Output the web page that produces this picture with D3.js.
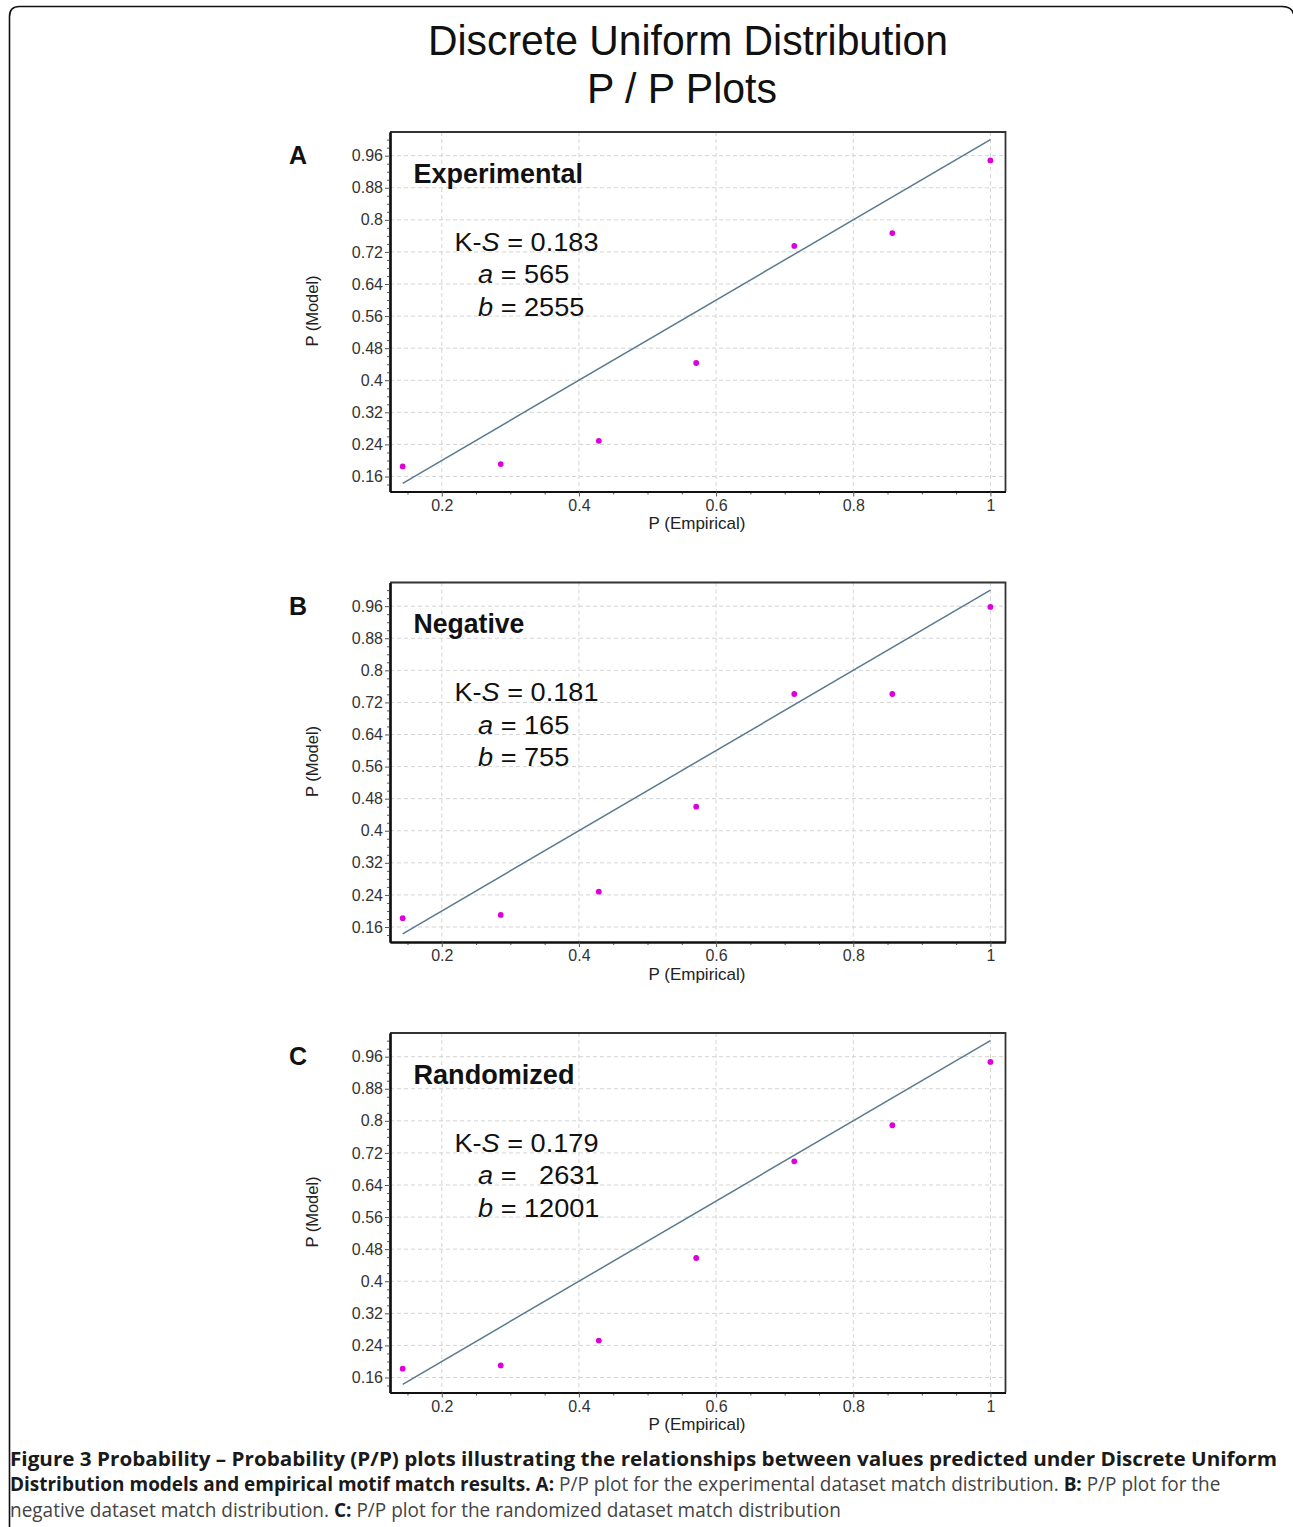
<!DOCTYPE html>
<html>
<head>
<meta charset="utf-8">
<script src="https://cdn.jsdelivr.net/npm/d3@7"></script>
<style>
  html, body { margin: 0; padding: 0; background: #fff; }
  svg { display: block; }
  text { font-family: "Liberation Sans", Arial, sans-serif; }
</style>
</head>
<body>
<svg id="chart" width="1293" height="1527"></svg>
<script>
// ---------- data ----------
const empirical = [0.143, 0.286, 0.429, 0.571, 0.714, 0.857, 1.0];
const modelA = [0.185, 0.191, 0.249, 0.443, 0.735, 0.767, 0.948];
const modelB = [0.182, 0.190, 0.248, 0.460, 0.741, 0.741, 0.958];
const modelC = [0.182, 0.190, 0.252, 0.458, 0.699, 0.789, 0.947];
const refLine = [[0.143, 0.143], [1.0, 1.0]];
const xTicks = [0.2, 0.4, 0.6, 0.8, 1];
const xTickLabels = ["0.2", "0.4", "0.6", "0.8", "1"];
const xMinor = [0.15, 0.25, 0.3, 0.35, 0.45, 0.5, 0.55, 0.65, 0.7, 0.75, 0.85, 0.9, 0.95];
const yTicks = [0.16, 0.24, 0.32, 0.4, 0.48, 0.56, 0.64, 0.72, 0.8, 0.88, 0.96];
const yTickLabels = ["0.16", "0.24", "0.32", "0.4", "0.48", "0.56", "0.64", "0.72", "0.8", "0.88", "0.96"];
const yMinor = [0.14, 0.18, 0.2, 0.22, 0.26, 0.28, 0.3, 0.34, 0.36, 0.38, 0.42, 0.44, 0.46, 0.5, 0.52, 0.54,
                0.58, 0.6, 0.62, 0.66, 0.68, 0.7, 0.74, 0.76, 0.78, 0.82, 0.84, 0.86, 0.9, 0.92, 0.94, 0.98, 1.0];
const panelLetters = ["A", "B", "C"];
const panelNames = ["Experimental", "Negative", "Randomized"];
const ksValues = ["0.183", "0.181", "0.179"];
const aValues = ["565", "165", "  2631"];
const bValues = ["2555", "755", "12001"];
const panelModels = [modelA, modelB, modelC];
const titleLines = ["Discrete Uniform Distribution", "P / P Plots"];
const xLabel = "P (Empirical)";
const yLabel = "P (Model)";

// ---------- layout ----------
const svg = d3.select("#chart");
const box = { left: 390, right: 1005.5, top: 132, bottom: 491.5 };
const panelOffsets = [0, 450.5, 901];

function fit(sel, target) {
  const len = sel.node().getComputedTextLength();
  const s = target / len;
  const x = +sel.attr("data-x"), y = +sel.attr("data-y");
  sel.attr("transform", `translate(${x},${y}) scale(${s},1)`);
  return s;
}
function textAt(parent, x, y) {
  return parent.append("text").attr("data-x", x).attr("data-y", y)
    .attr("transform", `translate(${x},${y})`);
}

// frame
svg.append("path")
  .attr("d", `M9.5,1540 L9.5,16.5 Q9.5,6.5 19.5,6.5 L1282,6.5 Q1292,6.5 1293.5,14`)
  .attr("fill", "none").attr("stroke", "#111").attr("stroke-width", 1.6);

// title
const t1 = textAt(svg, 688, 55).attr("text-anchor", "middle").attr("font-size", 43).attr("fill", "#111").text(titleLines[0]);
fit(t1, 520);
const t2 = textAt(svg, 682, 103).attr("text-anchor", "middle").attr("font-size", 43).attr("fill", "#111").text(titleLines[1]);
fit(t2, 190);

const x = d3.scaleLinear().domain([0.1245, 1.022]).range([box.left, box.right]);
const y = d3.scaleLinear().domain([0.1226, 1.019]).range([box.bottom, box.top]);

panelOffsets.forEach((off, i) => {
  const g = svg.append("g").attr("transform", `translate(0,${off})`);

  // grid
  g.append("g").selectAll("line").data(xTicks).join("line")
    .attr("x1", d => x(d)).attr("x2", d => x(d)).attr("y1", box.top).attr("y2", box.bottom)
    .attr("stroke", "#d4d4d4").attr("stroke-dasharray", "4,3").attr("stroke-width", 1);
  g.append("g").selectAll("line").data(yTicks).join("line")
    .attr("y1", d => y(d)).attr("y2", d => y(d)).attr("x1", box.left).attr("x2", box.right)
    .attr("stroke", "#d4d4d4").attr("stroke-dasharray", "4,3").attr("stroke-width", 1);

  // top/right border
  g.append("path")
    .attr("d", `M${box.left},${box.top} L${box.right},${box.top} L${box.right},${box.bottom}`)
    .attr("fill", "none").attr("stroke", "#333").attr("stroke-width", 1.8);

  // axes
  const xAxis = d3.axisBottom(x).tickValues(xTicks).tickFormat((d, k) => xTickLabels[k]).tickSize(5).tickSizeOuter(0).tickPadding(3);
  const xAxisMinor = d3.axisBottom(x).tickValues(xMinor).tickFormat("").tickSize(3).tickSizeOuter(0);
  const yAxis = d3.axisLeft(y).tickValues(yTicks).tickFormat((d, k) => yTickLabels[k]).tickSize(5).tickSizeOuter(0).tickPadding(2);
  const yAxisMinor = d3.axisLeft(y).tickValues(yMinor).tickFormat("").tickSize(3).tickSizeOuter(0);

  [xAxisMinor, xAxis].forEach(ax => {
    const a = g.append("g").attr("transform", `translate(0,${box.bottom})`).call(ax);
    a.select(".domain").attr("stroke", "#111").attr("stroke-width", 2.2);
    a.selectAll(".tick line").attr("stroke", "#555");
    a.selectAll("text").attr("font-size", 16).attr("fill", "#333").attr("font-family", "Liberation Sans, Arial, sans-serif");
  });
  [yAxisMinor, yAxis].forEach(ax => {
    const a = g.append("g").attr("transform", `translate(${box.left},0)`).call(ax);
    a.select(".domain").attr("stroke", "#111").attr("stroke-width", 2.2);
    a.selectAll(".tick line").attr("stroke", "#555");
    a.selectAll("text").attr("font-size", 16).attr("fill", "#333").attr("font-family", "Liberation Sans, Arial, sans-serif");
  });

  // axis labels
  g.append("text").attr("x", 697).attr("y", 529).attr("text-anchor", "middle")
    .attr("font-size", 17).attr("fill", "#222").text(xLabel);
  g.append("text").attr("transform", `translate(318,311) rotate(-90)`).attr("text-anchor", "middle")
    .attr("font-size", 16.5).attr("fill", "#222").text(yLabel);

  // reference line
  g.append("path").datum(refLine)
    .attr("d", d3.line().x(d => x(d[0])).y(d => y(d[1])))
    .attr("stroke", "#5a7a8e").attr("stroke-width", 1.5).attr("fill", "none");

  // points
  g.append("g").selectAll("circle").data(empirical.map((e, k) => [e, panelModels[i][k]])).join("circle")
    .attr("cx", d => x(d[0])).attr("cy", d => y(d[1])).attr("r", 2.9)
    .attr("fill", "#dd00dd");

  // panel letter
  g.append("text").attr("x", 289).attr("y", 164).attr("font-size", 25).attr("font-weight", "bold")
    .attr("fill", "#111").text(panelLetters[i]);

  // panel name
  const nameWidths = [169.5, 111, 161];
  const nm = textAt(g, 413.5, 182.5).attr("font-size", 27).attr("font-weight", "bold").attr("fill", "#111").text(panelNames[i]);
  fit(nm, nameWidths[i]);

  // stats
  const ks = textAt(g, 454.5, 250.7).attr("font-size", 25).attr("fill", "#111");
  ks.append("tspan").text("K-");
  ks.append("tspan").attr("font-style", "italic").text("S");
  ks.append("tspan").text(" = " + ksValues[i]);
  const s = fit(ks, 144);
  const aT = g.append("text").attr("transform", `translate(478,283.3) scale(${s},1)`).attr("font-size", 25).attr("fill", "#111").style("white-space", "pre");
  aT.append("tspan").attr("font-style", "italic").text("a");
  aT.append("tspan").text(" = " + aValues[i]);
  const bT = g.append("text").attr("transform", `translate(478,315.7) scale(${s},1)`).attr("font-size", 25).attr("fill", "#111");
  bT.append("tspan").attr("font-style", "italic").text("b");
  bT.append("tspan").text(" = " + bValues[i]);
});

// caption
const captionLines = [
  [["Figure 3 Probability \u2013 Probability (P/P) plots illustrating the relationships between values predicted under Discrete Uniform", true]],
  [["Distribution models and empirical motif match results. ", true], ["A:", true], [" P/P plot for the experimental dataset match distribution. ", false], ["B:", true], [" P/P plot for the", false]],
  [["negative dataset match distribution. ", false], ["C:", true], [" P/P plot for the randomized dataset match distribution", false]]
];
const capY = [1466, 1491, 1517];
const capW = [1268, 1211, 831];
captionLines.forEach((parts, k) => {
  const t = textAt(svg, 10, capY[k]).attr("font-size", 20).style("font-family", "'Open Sans', sans-serif").style("white-space", "pre");
  parts.forEach(([str, bold]) => {
    t.append("tspan").attr("font-weight", bold ? "bold" : "normal").attr("fill", bold ? "#1a1a1a" : "#444").text(str);
  });
  fit(t, capW[k]);
});
</script>
</body>
</html>
